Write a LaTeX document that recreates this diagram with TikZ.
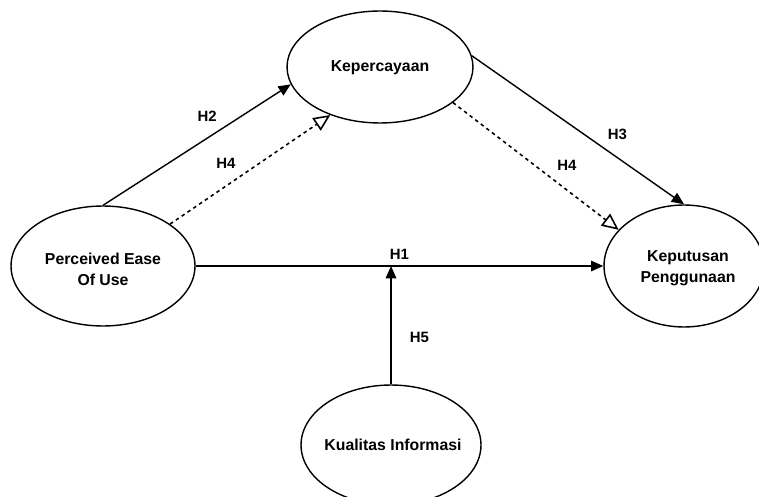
\documentclass[tikz,border=0pt]{standalone}
\usepackage{fontspec}
\setmainfont{Liberation Sans}
\usetikzlibrary{shapes.geometric,arrows.meta}

\tikzset{
  var/.style={ellipse, draw, line width=0.8pt, inner sep=0pt},
  txt/.style={font=\fontsize{9}{12}\selectfont\bfseries, align=center},
  lab/.style={font=\fontsize{8.5}{10}\selectfont\bfseries},
  hyp/.style={line width=0.8pt, -{Triangle[length=7pt,width=6pt]}},
  med/.style={line width=0.9pt, dash pattern=on 2pt off 2pt, -{Triangle[open,length=9.5pt,width=8.5pt,line width=0.9pt]}}
}

\begin{document}
\begin{tikzpicture}[x=0.02cm, y=-0.02cm]
      \useasboundingbox (0,0) rectangle (759,496);
      \node[var, minimum width=3.72cm, minimum height=2.24cm] (kep) at (380,67) {};
      \node[var, minimum width=3.68cm, minimum height=2.4cm] (per) at (103,266) {};
      \node[var, minimum width=3.2cm, minimum height=2.44cm] (kpt) at (684,266) {};
      \node[var, minimum width=3.6cm, minimum height=2.4cm] (kual) at (391,445) {};
      \node[txt] (kepname) at (380,68) {Kepercayaan};
      \node[txt] (pername) at (103,269) {Perceived Ease\\Of Use};
      \node[txt] (kptname) at (688,268) {Keputusan\\Penggunaan};
      \node[txt] (kualname) at (393,445) {Kualitas Informasi};
      \foreach \source/\dest/\label/\posval/\anc in {per.90/kep.191/H2/0.64/south east, kep.7/kpt.90/H3/0.61/south west, per.east/kpt.west/H1/0.5/south}
        \path[hyp] (\source) edge node[lab, pos=\posval, anchor=\anc] {\label} (\dest);
      \foreach \source/\dest/\label/\posval/\anc in {per.32/kep.224/H4/0.45/south east, kep.334/kpt.151/H4/0.59/south west}
        \path[med] (\source) edge node[lab, pos=\posval, anchor=\anc] {\label} (\dest);
      \draw[hyp] (kual.north) -- node[lab, pos=0.4, anchor=west, xshift=7pt] {H5} (kual.north |- per.east);
\end{tikzpicture}
\end{document}
